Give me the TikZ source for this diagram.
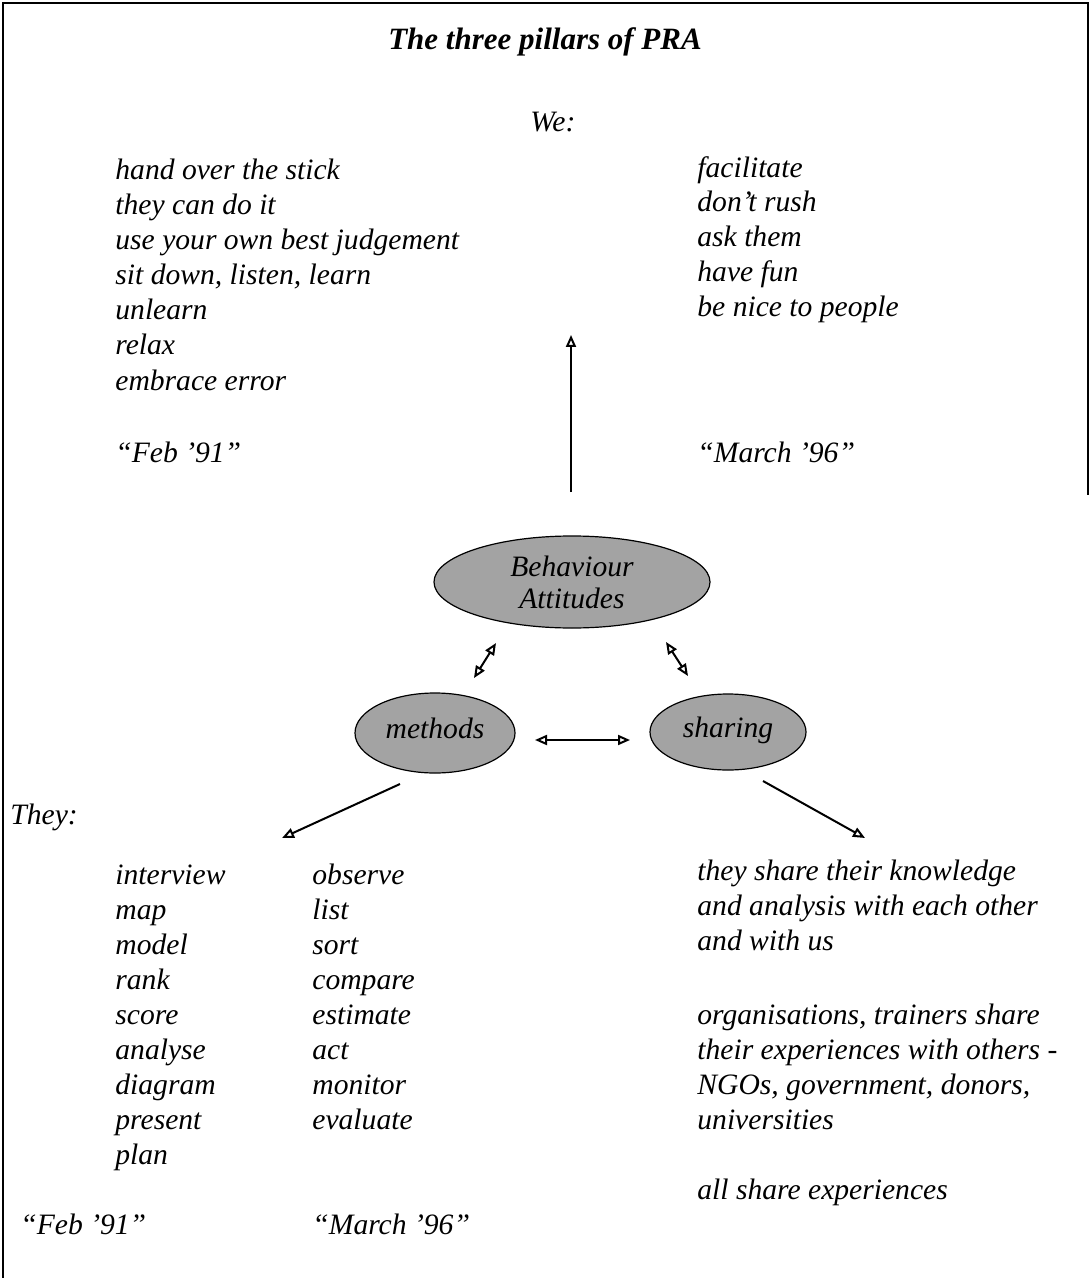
\documentclass[tikz,border=0pt]{standalone}
\usepackage{fontspec}
\setmainfont{Liberation Serif}
\usetikzlibrary{arrows.meta,shapes.geometric}

\tikzset{
  txt/.style={anchor=base west, inner sep=0pt,
    font=\itshape\fontsize{14.8}{17.5}\selectfont},
  pillar/.style={ellipse, draw=black, line width=0.6pt, fill=black!36,
    inner sep=0pt, font=\itshape\fontsize{14.8}{16}\selectfont, align=center},
  oneline/.style={text height=1.6ex, text depth=0.45ex},
  tip/.style={},
  link/.style={line width=1pt, -{Triangle[open,length=6pt,width=5pt]}},
  dlink/.style={line width=1pt, {Triangle[open,length=6pt,width=5pt]}-{Triangle[open,length=6pt,width=5pt]}},
  frame/.style={line width=1.3pt}
}

\begin{document}
\begin{tikzpicture}[x=0.5pt,y=-0.5pt]
\useasboundingbox (0,0) rectangle (1090,1278);

% open frame: top edge, full left edge, upper part of right edge
\draw[frame] (3,1278) -- (3,3) -- (1088,3) -- (1088,495);

% heading
\node[anchor=base, inner sep=0pt, font=\bfseries\itshape\fontsize{15.5}{18}\selectfont]
  (title) at (545,50) {The three pillars of PRA};
\node[txt] (we) at (530,132) {We:};

% "We" column, left
\foreach \t [count=\i] in {hand over the stick, they can do it,
    use your own best judgement, {sit down, listen, learn}, unlearn, relax,
    embrace error}
  \node[txt] (wl\i) at (115,{180+35*(\i-1)}) {\t};
\node[txt] (wl-date) at (115,462) {``Feb '91''};

% "We" column, right
\node[txt] (wr1) at (697,178) {facilitate};
\node[txt] (wr2) at (697,212) {don't rush};
\node[txt] (wr3) at (697,247) {ask them};
\node[txt] (wr4) at (697,282) {have fun};
\node[txt] (wr5) at (697,317) {be nice to people};
\node[txt] (wr-date) at (697,462) {``March '96''};

% the three pillars
\node[pillar, minimum width=138pt, minimum height=46pt] (beh) at (572,582)
  {Behaviour\\Attitudes};
\node[pillar, oneline, minimum width=80pt, minimum height=40pt] (meth) at (435,733) {methods};
\node[pillar, oneline, minimum width=78pt, minimum height=38pt] (shar) at (728,732) {sharing};

% connectors
\coordinate (up-tail) at (571,492);
\coordinate (up-head) at (571,335);
\draw[link] (up-tail) -- (up-head);

\coordinate (bm-a) at (496,643);
\coordinate (bm-b) at (474,678);
\draw[dlink] (bm-a) -- (bm-b);
\coordinate (bs-a) at (666,642);
\coordinate (bs-b) at (688,676);
\draw[dlink] (bs-a) -- (bs-b);
\coordinate (ms-a) at (535,740);
\coordinate (ms-b) at (630,740);
\draw[dlink] (ms-a) -- (ms-b);

\coordinate (m-out) at (400,784);
\coordinate (they-in) at (282,838);
\draw[link] (m-out) -- (they-in);
\coordinate (s-out) at (763,781);
\coordinate (share-in) at (865,838);
\draw[link] (s-out) -- (share-in);

% "They" block
\node[txt] (they) at (10,824) {They:};
\foreach \t [count=\i] in {interview, map, model, rank, score, analyse,
    diagram, present, plan}
  \node[txt] (ta\i) at (115,{884+35*(\i-1)}) {\t};
\foreach \t [count=\i] in {observe, list, sort, compare, estimate, act,
    monitor, evaluate}
  \node[txt] (tb\i) at (312,{884+35*(\i-1)}) {\t};
\node[txt] (ta-date) at (20,1234) {``Feb '91''};
\node[txt] (tb-date) at (312,1234) {``March '96''};

% sharing block
\node[txt] (s1) at (697,880) {they share their knowledge};
\node[txt] (s2) at (697,915) {and analysis with each other};
\node[txt] (s3) at (697,950) {and with us};
\node[txt] (s4) at (697,1024) {organisations, trainers share};
\node[txt] (s5) at (697,1059) {their experiences with others -};
\node[txt] (s6) at (697,1094) {NGOs, government, donors,};
\node[txt] (s7) at (697,1129) {universities};
\node[txt] (s8) at (697,1199) {all share experiences};
\end{tikzpicture}
\end{document}
